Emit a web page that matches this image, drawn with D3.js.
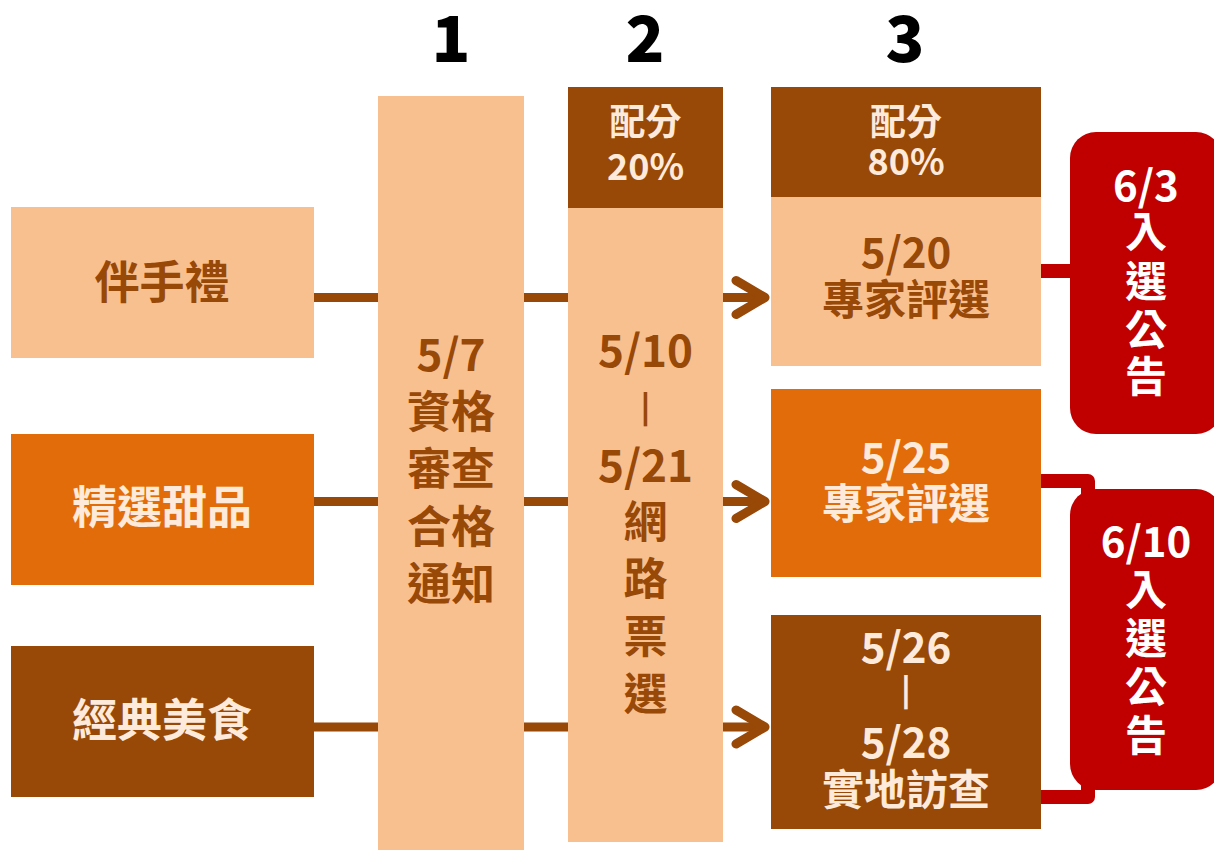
<!DOCTYPE html>
<html><head><meta charset="utf-8">
<script src="https://cdn.jsdelivr.net/npm/d3@7"></script>
<style>
html,body{margin:0;padding:0;background:#fff;}
svg{display:block;font-family:"Noto Sans CJK TC","Noto Sans CJK SC",sans-serif;font-weight:700;}
</style></head>
<body>
<svg id="c" width="1214" height="850"></svg>
<script>
// ---- content ----
const stepNumbers = ["1", "2", "3"];
const categories = ["伴手禮", "精選甜品", "經典美食"];
const step1Lines = ["5/7", "資格", "審查", "合格", "通知"];
const step2Header = ["配分", "20%"];
const step2Lines = ["5/10", "|", "5/21", "網", "路", "票", "選"];
const step3Header = ["配分", "80%"];
const step3Boxes = [["5/20", "專家評選"], ["5/25", "專家評選"], ["5/26", "|", "5/28", "實地訪查"]];
const announce = [["6/3", "入", "選", "公", "告"], ["6/10", "入", "選", "公", "告"]];

const C = {peach:"#F9C08F", orange:"#E36C0A", brown:"#984807", cream:"#FDEADA", red:"#C00000"};
const svg = d3.select("#c");
const TY = -4; // baseline correction

function rect(x,y,w,h,fill,r){
  svg.append("rect").attr("x",x).attr("y",y).attr("width",w).attr("height",h)
     .attr("fill",fill).attr("rx",r||0).attr("ry",r||0);
}
function lines(arr, cx, ys, size, fill){
  svg.append("g").selectAll("text").data(arr).join("text")
    .attr("x",cx).attr("y",(d,i)=>ys[i]+(d==="|"?-5:TY))
    .attr("text-anchor","middle").attr("dominant-baseline","central")
    .attr("font-size",d=>d==="|"?30:size).attr("fill",fill)
    .attr("font-weight",d=>d==="|"?900:700)
    .text(d=>d);
}
function seq(start, step, n){ return d3.range(n).map(i=>start+i*step); }

// step numbers
const numX = [451, 645, 905];
svg.append("g").selectAll("text").data(stepNumbers).join("text")
  .attr("x",(d,i)=>numX[i]).attr("y",62).attr("text-anchor","middle")
  .attr("font-size",64).attr("font-weight",900)
  .attr("fill","#000").text(d=>d);

// connector lines
const rowY = [297.5, 501.5, 727];
const conn = svg.append("g").attr("stroke",C.brown).attr("stroke-width",9).attr("fill","none");
rowY.forEach(y=>{
  conn.append("line").attr("x1",314).attr("x2",378).attr("y1",y).attr("y2",y);
  conn.append("line").attr("x1",524).attr("x2",568).attr("y1",y).attr("y2",y);
  conn.append("line").attr("x1",723).attr("x2",764).attr("y1",y).attr("y2",y);
  conn.append("path").attr("d",`M${736},${y-17} L${765},${y} L${736},${y+17}`)
    .attr("stroke-linecap","round").attr("stroke-linejoin","round");
});

// red connectors
const rc = svg.append("g").attr("stroke",C.red).attr("stroke-width",14).attr("fill","none").attr("stroke-linejoin","round");
rc.append("line").attr("x1",1041).attr("x2",1075).attr("y1",271).attr("y2",271);
rc.append("path").attr("d","M1041,481 H1088 V797 H1041");

// left category boxes
const catBoxes = [[207,C.peach,C.brown],[434,C.orange,C.cream],[646,C.brown,C.cream]];
const catTextY = [283, 508, 721];
catBoxes.forEach((b,i)=>{
  rect(11,b[0],303,151,b[1]);
  lines([categories[i]],162,[catTextY[i]],45,b[2]);
});

// step 1 column
rect(378,96,146,754,C.peach);
lines(step1Lines,451,seq(356,57.2,5),44,C.brown);

// step 2 column
rect(568,208,155,634,C.peach);
rect(568,87,155,121,C.brown);
lines(step2Header,645.5,[123,168],36,C.cream);
lines(step2Lines,645.5,[352,410,467,523,580,638,695],44,C.brown);

// step 3 column
rect(771,87,270,110,C.brown);
lines(step3Header,906,[123,163],36,C.cream);
const s3 = [[197,169,C.peach,C.brown,[253,300]],[389,188,C.orange,C.cream,[458,504]],[615,214,C.brown,C.cream,[648,693,743,790]]];
s3.forEach((b,i)=>{
  rect(771,b[0],270,b[1],b[2]);
  lines(step3Boxes[i],906,b[4],42,b[3]);
});

// announcements
rect(1070,132,152,302,C.red,26);
lines(announce[0],1146,[186,232,282,330,377],42,"#fff");
rect(1070,489,152,301,C.red,26);
lines(announce[1],1146,[542,590,639,687,736],42,"#fff");
</script>
</body></html>
